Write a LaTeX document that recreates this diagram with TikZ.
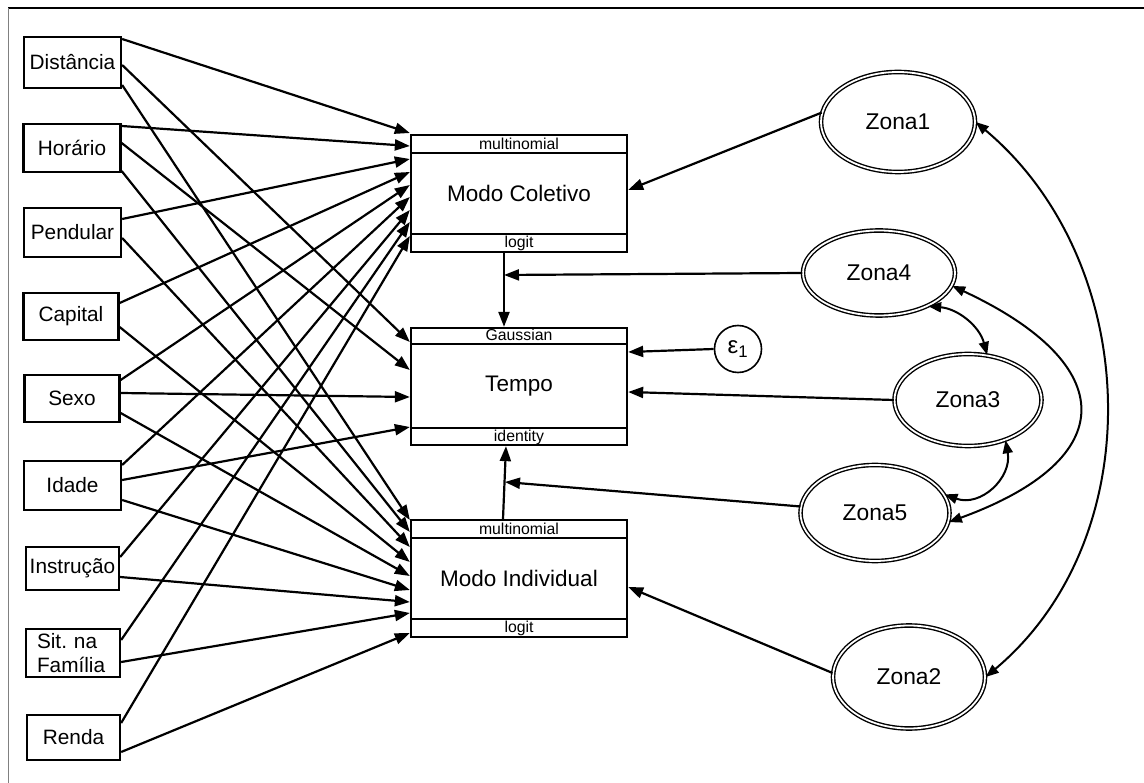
\documentclass[tikz,border=0pt]{standalone}
\usepackage{fontspec}
\setmainfont{Liberation Sans}
\usetikzlibrary{arrows.meta,shapes.geometric,calc}
\begin{document}
\begin{tikzpicture}[x=1pt,y=-1pt,
  lbox/.style={draw,line width=2.3pt,inner sep=0pt,font=\fontsize{20.8}{24.5}\selectfont},
  mbox/.style={draw,line width=2.3pt,minimum width=216,minimum height=117,inner sep=0pt,font=\fontsize{22.5}{26}\selectfont},
  small/.style={inner sep=0pt,font=\fontsize{15.8}{18}\selectfont},
  zona/.style={ellipse,draw,line width=1.4pt,double,double distance=1.8pt,inner sep=0pt,font=\fontsize{22.8}{26}\selectfont},
  arr/.style={line width=2.2pt,-{Triangle[length=15pt,width=11pt]}},
  darr/.style={line width=2pt,{Triangle[length=13pt,width=10pt]}-{Triangle[length=13pt,width=10pt]}},
  band/.style={line width=2.3pt}
]
\useasboundingbox (0,0) rectangle (1144,783);
% frame
\draw[line width=1.2pt] (8,8) -- (1144,8);
\draw[line width=0.8pt,gray] (8,8) -- (8,783);

% left boxes
\node[lbox,minimum width=97,minimum height=51] (dist) at (72.5,62.5) {Distância};
\node[lbox,minimum width=97,minimum height=48] (hor) at (72,148) {Horário};
\node[lbox,minimum width=97,minimum height=49] (pend) at (72.5,232.5) {Pendular};
\node[lbox,minimum width=95,minimum height=47] (cap) at (71,316.5) {Capital};
\node[lbox,minimum width=95,minimum height=47] (sexo) at (72,398.5) {Sexo};
\node[lbox,minimum width=97,minimum height=49] (idade) at (72.5,485.5) {Idade};
\node[lbox,minimum width=93,minimum height=43] (instr) at (72.5,568.5) {Instrução};
\node[lbox,minimum height=48,align=left,text width=72pt,inner xsep=11pt] (sit) at (73,653) {Sit.\ na\\Família};
\node[lbox,minimum width=93,minimum height=45] (renda) at (73.5,737.5) {Renda};

% central boxes
\node[mbox] (col) at (519,193.5) {Modo Coletivo};
\draw[band] (col.west |- 0,153) -- (col.east |- 0,153);
\draw[band] (col.west |- 0,234) -- (col.east |- 0,234);
\node[small] (colt) at (col.north |- 0,143.5) {multinomial};
\node[small] (colb) at (col.north |- 0,243.5) {logit};

\node[mbox] (tempo) at (519,386.5) {Tempo};
\draw[band] (tempo.west |- 0,344) -- (tempo.east |- 0,344);
\draw[band] (tempo.west |- 0,428) -- (tempo.east |- 0,428);
\node[small] (tempot) at (tempo.north |- 0,335) {Gaussian};
\node[small] (tempob) at (tempo.north |- 0,437.5) {identity};

\node[mbox] (ind) at (519,578.5) {Modo Individual};
\draw[band] (ind.west |- 0,538) -- (ind.east |- 0,538);
\draw[band] (ind.west |- 0,619) -- (ind.east |- 0,619);
\node[small] (indt) at (ind.north |- 0,528.5) {multinomial};
\node[small] (indb) at (ind.north |- 0,628.5) {logit};

% right ellipses
\node[zona,minimum width=154,minimum height=100] (z1) at (898,122) {Zona1};
\node[zona,minimum width=152,minimum height=85] (z4) at (879,273) {Zona4};
\node[zona,minimum width=147,minimum height=92] (z3) at (968,400) {Zona3};
\node[zona,minimum width=149,minimum height=96] (z5) at (875,513) {Zona5};
\node[zona,minimum width=152,minimum height=103] (z2) at (909,677) {Zona2};
\node[circle,draw,line width=1.6pt,minimum size=47,inner sep=0pt,font=\fontsize{24}{26}\selectfont] (eps) at (738,349) {ε\textsubscript{1}};

% arrows to Modo Coletivo
\draw[arr] (dist.east |- 0,39) -- (col.west |- 0,133);
\draw[arr] (hor.east |- 0,126) -- (col.west |- 0,146);
\draw[arr] (pend.east |- 0,219) -- (col.west |- 0,159);
\draw[arr] (cap.east |- 0,303) -- (col.west |- 0,172);
\draw[arr] (sexo.east |- 0,380) -- (col.west |- 0,185);
\draw[arr] (idade.east |- 0,465) -- (col.west |- 0,197);
\draw[arr] (instr.east |- 0,557) -- (col.west |- 0,210);
\draw[arr] (sit.east |- 0,640) -- (col.west |- 0,222);
\draw[arr] (renda.east |- 0,723) -- (col.west |- 0,236);

% arrows to Tempo
\draw[arr] (dist.east |- 0,65) -- (tempo.west |- 0,342);
\draw[arr] (hor.east |- 0,143) -- (tempo.west |- 0,370);
\draw[arr] (sexo.east |- 0,393) -- (tempo.west |- 0,397);
\draw[arr] (idade.east |- 0,480) -- (tempo.west |- 0,427);

% arrows to Modo Individual
\draw[arr] (dist.east |- 0,85) -- (ind.west |- 0,520);
\draw[arr] (hor.east |- 0,171) -- (ind.west |- 0,532);
\draw[arr] (pend.east |- 0,238) -- (ind.west |- 0,547);
\draw[arr] (cap.east |- 0,327) -- (ind.west |- 0,562);
\draw[arr] (sexo.east |- 0,413) -- (ind.west |- 0,576);
\draw[arr] (idade.east |- 0,500) -- (ind.west |- 0,590);
\draw[arr] (instr.east |- 0,577) -- (ind.west |- 0,602);
\draw[arr] (sit.east |- 0,662) -- (ind.west |- 0,613);
\draw[arr] (renda.east |- 0,752) -- (ind.west |- 0,633);

% vertical arrows
\draw[arr] (col.south -| 504,0) -- (tempo.north -| 504,0);
\draw[arr] (ind.north -| 503,0) -- (tempo.south -| 506,0);
\coordinate (m1) at (504,275);
\coordinate (m2) at (505,482);

% arrows from right side
\draw[arr] (z1.173) -- (col.east |- 0,190);
\draw[arr] (z4.west) -- (m1);
\draw[arr] (eps.west) -- (tempo.east |- 0,352);
\draw[arr] (z3.west) -- (tempo.east |- 0,392);
\draw[arr] (z5.175) -- (m2);
\draw[arr] (z2.177) -- (ind.east |- 0,587);

% covariance curves
\draw[darr] (z1.east) to[out=-40,in=40,looseness=1.0] (z2.east);
\draw[darr] (z4.-10) to[out=-25,in=20,looseness=2.0] (z5.-7);
\draw[darr] (z4.-34) to[out=-5,in=105] (z3.67);
\draw[darr] (z3.-47) to[out=-80,in=-20,looseness=1.2] (z5.15);
\end{tikzpicture}
\end{document}
